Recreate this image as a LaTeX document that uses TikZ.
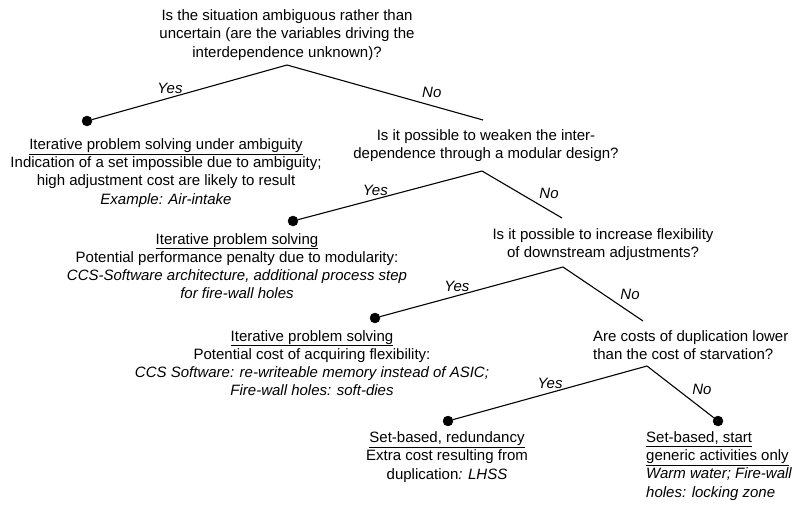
\documentclass[tikz,border=0pt]{standalone}
\usepackage{fontspec}
\setmainfont{Liberation Sans}
\begin{document}
\begin{tikzpicture}[x=1pt,y=-1pt,
  txt/.style={align=center,inner sep=0pt,font=\fontsize{15}{18.2}\selectfont},
  ans/.style={font=\fontsize{15}{18.2}\selectfont\itshape},
  leaf/.style={draw,circle,fill,inner sep=0pt,minimum size=10pt},
  branch/.style={draw,line width=1.1pt}]
\useasboundingbox (0,0) rectangle (794,504);
% questions
\node[txt] (q1) at (287,35) {Is the situation ambiguous rather than\\uncertain (are the variables driving the\\interdependence unknown)?};
\node[txt] (q2) at (486,146) {Is it possible to weaken the inter-\\dependence through a modular design?};
\node[txt] (q3) at (603,245) {Is it possible to increase flexibility\\of downstream adjustments?};
\node[txt,align=left,anchor=west] (q4) at (593,345) {Are costs of duplication lower\\than the cost of starvation?};
% branch points
\coordinate (a1) at (287,65);
\coordinate (a2) at (482,171);
\coordinate (a3) at (563,267);
\coordinate (a4) at (647,366);
% leaves
\node[leaf] (l1) at (87,121) {};
\node[leaf] (l2) at (293,221) {};
\node[leaf] (l3) at (375,318) {};
\node[leaf] (l4) at (448,421) {};
\node[leaf] (l5) at (718,421) {};
\node[txt] (t1) at (166,173) {\underline{Iterative problem solving under ambiguity}\\Indication of a set impossible due to ambiguity;\\high adjustment cost are likely to result\\\textit{Example: Air-intake}};
\node[txt] (t2) at (237,266) {\underline{Iterative problem solving}\\Potential performance penalty due to modularity:\\\textit{CCS-Software architecture, additional process step}\\\textit{for fire-wall holes}};
\node[txt] (t3) at (312,363) {\underline{Iterative problem solving}\\Potential cost of acquiring flexibility:\\\textit{CCS Software: re-writeable memory instead of ASIC;}\\\textit{Fire-wall holes: soft-dies}};
\node[txt] (t4) at (447,457) {\underline{Set-based, redundancy}\\Extra cost resulting from\\duplication\textit{: LHSS}};
\node[txt,align=left,anchor=west] (t5) at (646,466) {\underline{Set-based, start}\\\underline{generic activities only}\\\textit{Warm water; Fire-wall}\\\textit{holes: locking zone}};
% no-ends
\coordinate (n1) at (483,120);
\coordinate (n2) at (562,218);
\coordinate (n3) at (643,321);
% connectors
\path[branch] (a1) -- node[ans,pos=0.6,above] {Yes} (l1);
\path[branch] (a1) -- node[ans,pos=0.67,above right] {No} (n1);
\path[branch] (a2) -- node[ans,pos=0.58,above] {Yes} (l2);
\path[branch] (a2) -- node[ans,pos=0.67,above right] {No} (n2);
\path[branch] (a3) -- node[ans,pos=0.58,above] {Yes} (l3);
\path[branch] (a3) -- node[ans,pos=0.67,above right] {No} (n3);
\path[branch] (a4) -- node[ans,pos=0.5,above] {Yes} (l4);
\path[branch] (a4) -- node[ans,pos=0.62,above right] {No} (l5);
\end{tikzpicture}
\end{document}
